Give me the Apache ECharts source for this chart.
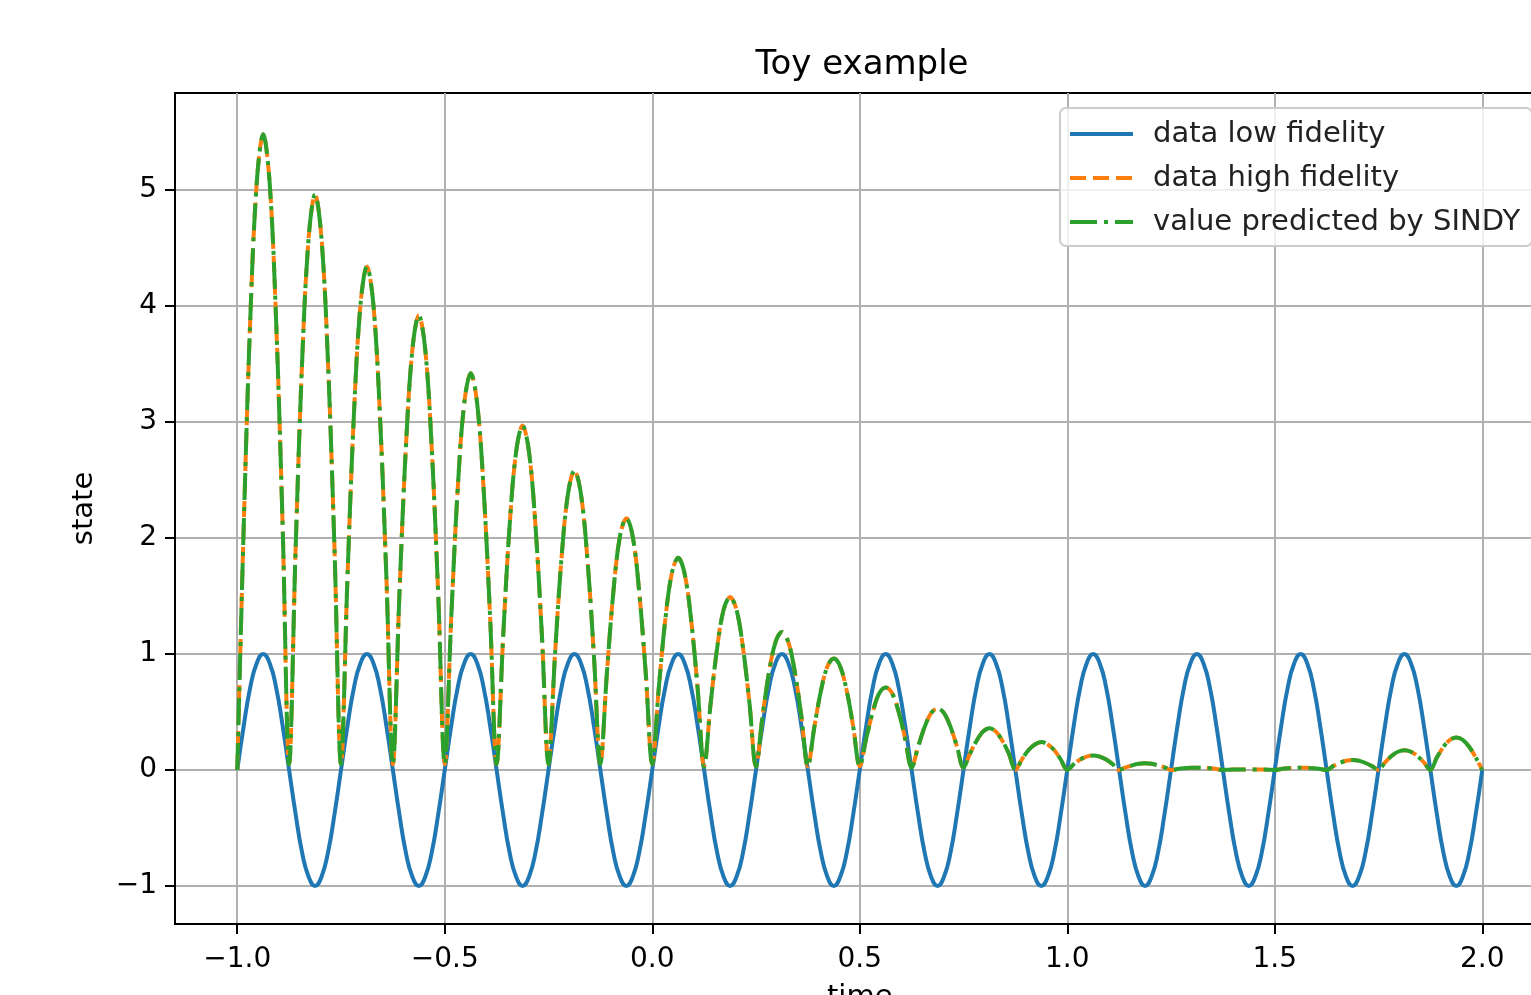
<!DOCTYPE html>
<html>
<head>
<meta charset="utf-8">
<title>Toy example</title>
<script src="https://cdn.jsdelivr.net/npm/echarts@6/dist/echarts.min.js"></script>
<style>
  html, body { margin: 0; padding: 0; background: #fff; }
  #chart { width: 1531px; height: 995px; }
</style>
</head>
<body>
<div id="chart"></div>
<script>
// sample times, one row per low-fidelity period (step 1/64)
const TIME = [
  -1, -0.9844, -0.9688, -0.9531, -0.9375, -0.9219, -0.9063, -0.8906, -0.875, -0.8594, -0.8438, -0.8281, -0.8125, -0.7969, -0.7813, -0.7656,
  -0.75, -0.7344, -0.7188, -0.7031, -0.6875, -0.6719, -0.6563, -0.6406, -0.625, -0.6094, -0.5938, -0.5781, -0.5625, -0.5469, -0.5313, -0.5156,
  -0.5, -0.4844, -0.4688, -0.4531, -0.4375, -0.4219, -0.4063, -0.3906, -0.375, -0.3594, -0.3438, -0.3281, -0.3125, -0.2969, -0.2813, -0.2656,
  -0.25, -0.2344, -0.2188, -0.2031, -0.1875, -0.1719, -0.1563, -0.1406, -0.125, -0.1094, -0.0938, -0.0781, -0.0625, -0.0469, -0.0313, -0.0156,
  0, 0.0156, 0.0313, 0.0469, 0.0625, 0.0781, 0.0938, 0.1094, 0.125, 0.1406, 0.1563, 0.1719, 0.1875, 0.2031, 0.2188, 0.2344,
  0.25, 0.2656, 0.2813, 0.2969, 0.3125, 0.3281, 0.3438, 0.3594, 0.375, 0.3906, 0.4063, 0.4219, 0.4375, 0.4531, 0.4688, 0.4844,
  0.5, 0.5156, 0.5313, 0.5469, 0.5625, 0.5781, 0.5938, 0.6094, 0.625, 0.6406, 0.6563, 0.6719, 0.6875, 0.7031, 0.7188, 0.7344,
  0.75, 0.7656, 0.7813, 0.7969, 0.8125, 0.8281, 0.8438, 0.8594, 0.875, 0.8906, 0.9063, 0.9219, 0.9375, 0.9531, 0.9688, 0.9844,
  1, 1.0156, 1.0313, 1.0469, 1.0625, 1.0781, 1.0938, 1.1094, 1.125, 1.1406, 1.1563, 1.1719, 1.1875, 1.2031, 1.2188, 1.2344,
  1.25, 1.2656, 1.2813, 1.2969, 1.3125, 1.3281, 1.3438, 1.3594, 1.375, 1.3906, 1.4063, 1.4219, 1.4375, 1.4531, 1.4688, 1.4844,
  1.5, 1.5156, 1.5313, 1.5469, 1.5625, 1.5781, 1.5938, 1.6094, 1.625, 1.6406, 1.6563, 1.6719, 1.6875, 1.7031, 1.7188, 1.7344,
  1.75, 1.7656, 1.7813, 1.7969, 1.8125, 1.8281, 1.8438, 1.8594, 1.875, 1.8906, 1.9063, 1.9219, 1.9375, 1.9531, 1.9688, 1.9844,
  2,
];

// blue curve
const LOW_FIDELITY = [
  0, 0.38, 0.71, 0.92, 1, 0.92, 0.71, 0.38, 0, -0.38, -0.71, -0.92, -1, -0.92, -0.71, -0.38,
  0, 0.38, 0.71, 0.92, 1, 0.92, 0.71, 0.38, 0, -0.38, -0.71, -0.92, -1, -0.92, -0.71, -0.38,
  0, 0.38, 0.71, 0.92, 1, 0.92, 0.71, 0.38, 0, -0.38, -0.71, -0.92, -1, -0.92, -0.71, -0.38,
  0, 0.38, 0.71, 0.92, 1, 0.92, 0.71, 0.38, 0, -0.38, -0.71, -0.92, -1, -0.92, -0.71, -0.38,
  0, 0.38, 0.71, 0.92, 1, 0.92, 0.71, 0.38, 0, -0.38, -0.71, -0.92, -1, -0.92, -0.71, -0.38,
  0, 0.38, 0.71, 0.92, 1, 0.92, 0.71, 0.38, 0, -0.38, -0.71, -0.92, -1, -0.92, -0.71, -0.38,
  0, 0.38, 0.71, 0.92, 1, 0.92, 0.71, 0.38, 0, -0.38, -0.71, -0.92, -1, -0.92, -0.71, -0.38,
  0, 0.38, 0.71, 0.92, 1, 0.92, 0.71, 0.38, 0, -0.38, -0.71, -0.92, -1, -0.92, -0.71, -0.38,
  0, 0.38, 0.71, 0.92, 1, 0.92, 0.71, 0.38, 0, -0.38, -0.71, -0.92, -1, -0.92, -0.71, -0.38,
  0, 0.38, 0.71, 0.92, 1, 0.92, 0.71, 0.38, 0, -0.38, -0.71, -0.92, -1, -0.92, -0.71, -0.38,
  0, 0.38, 0.71, 0.92, 1, 0.92, 0.71, 0.38, 0, -0.38, -0.71, -0.92, -1, -0.92, -0.71, -0.38,
  0, 0.38, 0.71, 0.92, 1, 0.92, 0.71, 0.38, 0, -0.38, -0.71, -0.92, -1, -0.92, -0.71, -0.38,
  0,
];

// orange curve (the SINDY fit lies on top of it)
const HIGH_FIDELITY = [
  0, 2.10, 3.87, 5.06, 5.48, 5.06, 3.87, 2.10, 0.05, 1.90, 3.51, 4.58, 4.96, 4.58, 3.51, 1.90,
  0.05, 1.66, 3.07, 4.01, 4.34, 4.01, 3.07, 1.66, 0.05, 1.50, 2.77, 3.62, 3.92, 3.62, 2.77, 1.50,
  0.05, 1.31, 2.42, 3.16, 3.42, 3.16, 2.42, 1.31, 0.05, 1.14, 2.10, 2.74, 2.97, 2.74, 2.10, 1.14,
  0.05, 0.99, 1.82, 2.38, 2.58, 2.38, 1.82, 0.99, 0.05, 0.83, 1.53, 2.01, 2.17, 2.01, 1.53, 0.83,
  0.05, 0.70, 1.29, 1.69, 1.83, 1.69, 1.29, 0.70, 0.03, 0.57, 1.05, 1.38, 1.49, 1.38, 1.05, 0.57,
  0.03, 0.46, 0.84, 1.10, 1.19, 1.10, 0.84, 0.46, 0.03, 0.37, 0.68, 0.89, 0.96, 0.89, 0.68, 0.37,
  0.03, 0.27, 0.50, 0.66, 0.71, 0.66, 0.50, 0.27, 0.02, 0.20, 0.37, 0.49, 0.53, 0.49, 0.37, 0.20,
  0.02, 0.14, 0.25, 0.33, 0.36, 0.33, 0.25, 0.14, 0, 0.09, 0.17, 0.22, 0.24, 0.22, 0.17, 0.09,
  0, 0.05, 0.09, 0.115, 0.125, 0.115, 0.09, 0.05, 0, 0.022, 0.04, 0.053, 0.057, 0.053, 0.04, 0.022,
  0, 0.008, 0.014, 0.018, 0.02, 0.018, 0.014, 0.008, 0, 0.002, 0.004, 0.005, 0.005, 0.005, 0.004, 0.002,
  0, 0.008, 0.014, 0.018, 0.02, 0.018, 0.014, 0.008, 0, 0.033, 0.06, 0.079, 0.085, 0.079, 0.06, 0.033,
  0, 0.065, 0.12, 0.157, 0.17, 0.157, 0.12, 0.065, 0, 0.107, 0.198, 0.259, 0.28, 0.259, 0.198, 0.107,
  0,
];

// the prediction is indistinguishable from the high-fidelity data in the picture
const SINDY = HIGH_FIDELITY;

const X_TICKS = [-1, -0.5, 0, 0.5, 1, 1.5, 2];
const Y_TICKS = [-1, 0, 1, 2, 3, 4, 5];

const FONT = 'DejaVu Sans';
const minus = (s) => s.replace('-', '\u2212');
const pairs = (ys) => TIME.map((t, i) => [t, ys[i]]);

const chart = echarts.init(document.getElementById('chart'));
chart.setOption({
  animation: false,
  backgroundColor: '#fff',
  title: {
    text: 'Toy example',
    left: 857, top: 43, textAlign: 'center',
    textStyle: { fontFamily: FONT, fontSize: 34, fontWeight: 'normal', color: '#000' },
  },
  legend: {
    orient: 'vertical', left: 1060, top: 108,
    itemWidth: 63, itemHeight: 14, itemGap: 14,
    padding: [11, 12, 9, 8],
    backgroundColor: 'rgba(255,255,255,0.8)',
    borderColor: '#cccccc', borderWidth: 2, borderRadius: 6,
    itemStyle: { opacity: 0 },
    lineStyle: { width: 4 },
    textStyle: { fontFamily: FONT, fontSize: 29, color: '#222', lineHeight: 30, padding: [0, 0, 0, 15] },
    data: ['data low fidelity', 'data high fidelity', 'value predicted by SINDY'],
  },
  grid: {
    left: 175, top: 93, width: 1369.5, height: 831,
    outerBoundsMode: 'none',
    show: true, borderColor: '#000', borderWidth: 2,
  },
  xAxis: {
    type: 'value', min: -1.15, max: 2.15,
    name: 'time', nameLocation: 'middle', nameGap: 59,
    nameTextStyle: { fontFamily: FONT, fontSize: 29, color: '#000' },
    axisLine: { show: true, onZero: false, lineStyle: { color: '#000', width: 2 } },
    axisTick: { show: true, length: 10, customValues: X_TICKS, lineStyle: { color: '#000', width: 2 } },
    axisLabel: {
      customValues: X_TICKS, margin: 22,
      fontFamily: FONT, fontSize: 28, color: '#000',
      formatter: (v) => minus(v.toFixed(1)),
    },
    splitLine: { show: true, lineStyle: { color: '#b0b0b0', width: 2 } },
  },
  yAxis: {
    type: 'value', min: -1.328, max: 5.836,
    name: 'state', nameLocation: 'middle', nameGap: 76,
    nameTextStyle: { fontFamily: FONT, fontSize: 29, color: '#000' },
    axisLine: { show: true, onZero: false, lineStyle: { color: '#000', width: 2 } },
    axisTick: { show: true, length: 10, customValues: Y_TICKS, lineStyle: { color: '#000', width: 2 } },
    axisLabel: {
      customValues: Y_TICKS, margin: 18,
      fontFamily: FONT, fontSize: 28, color: '#000',
      formatter: (v) => minus(String(v)),
    },
    splitLine: { show: true, lineStyle: { color: '#b0b0b0', width: 2 } },
  },
  series: [
    {
      name: 'data low fidelity', type: 'line', data: pairs(LOW_FIDELITY),
      smooth: true, symbol: 'none', color: '#1f77b4',
      lineStyle: { color: '#1f77b4', width: 4 },
    },
    {
      name: 'data high fidelity', type: 'line', data: pairs(HIGH_FIDELITY),
      smooth: 0.35, symbol: 'none', color: '#ff7f0e',
      lineStyle: { color: '#ff7f0e', width: 4, type: [16, 7] },
    },
    {
      name: 'value predicted by SINDY', type: 'line', data: pairs(SINDY),
      smooth: 0.35, symbol: 'none', color: '#2ca02c',
      lineStyle: { color: '#2ca02c', width: 4, type: [27, 7, 4, 7] },
    },
  ],
});
</script>
</body>
</html>
